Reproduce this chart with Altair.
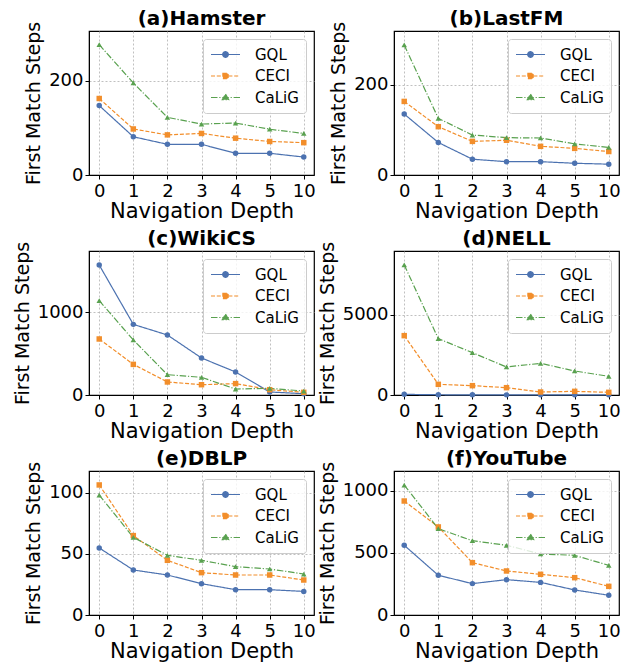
import altair as alt
import pandas as pd

depths = ["0", "1", "2", "3", "4", "5", "10"]
methods = ["GQL", "CECI", "CaLiG"]
colors = ["#4C72B0", "#F28E2B", "#59A14F"]
markers = ["circle", "square", "triangle-up"]

titles = ["(a)Hamster", "(b)LastFM", "(c)WikiCS", "(d)NELL", "(e)DBLP", "(f)YouTube"]

gql = [
    [147, 81, 65, 65, 46, 46, 38],
    [135, 72, 35, 29.5, 29.5, 26, 24],
    [1566, 851, 723, 446, 277, 36, 16],
    [40, 15, 10, 8, 8, 8, 8],
    [54.8, 36.8, 32.7, 25.6, 20.7, 20.7, 19.3],
    [562, 320, 253, 285, 263, 202, 159],
]
ceci = [
    [162, 97.5, 85, 88, 78, 71, 68.5],
    [163, 107, 74.5, 77, 63.5, 59, 52],
    [675, 369, 157, 124, 137, 64, 32],
    [3693, 664, 581, 456, 187, 228, 166],
    [106.3, 64.9, 44.7, 34.6, 32.7, 32.7, 28.6],
    [919, 710, 422, 355, 328, 301, 231],
]
calig = [
    [276, 195, 122, 108, 110, 97, 88],
    [288, 125.5, 88.5, 82.7, 82, 69, 61],
    [1137, 663, 245, 213, 72, 80, 48],
    [8091, 3506, 2635, 1743, 1971, 1494, 1162],
    [98, 63.5, 48.8, 44.7, 39.5, 37.6, 33.5],
    [1048, 696, 599, 562, 492, 481, 400],
]
y_max = [305, 319, 1735, 8960, 117.7, 1161]
y_ticks = [[0, 200], [0, 200], [0, 1000], [0, 5000], [0, 50, 100], [0, 500, 1000]]

FONT = "DejaVu Sans"

# legend symbols: line segment + marker (custom paths, unit = 7.5 px)
LINE = "M-1,0H2.867"
p_circle = LINE + "M1.306,0A0.373,0.373,0,1,1,0.56,0A0.373,0.373,0,1,1,1.306,0Z"
p_square = LINE + "M0.586,-0.347H1.28V0.347H0.586Z"
p_tri = LINE + "M0.933,-0.45L1.36,0.3L0.506,0.3Z"

def sel(a, b, c):
    return ("datum.value === 'GQL' ? %s : (datum.value === 'CECI' ? %s : %s)" % (a, b, c))

legend = alt.Legend(
    title=None,
    orient="top-right",
    offset=8,
    padding=7,
    labelFont=FONT,
    labelFontSize=15,
    labelColor="black",
    labelOffset=28,
    symbolSize=225,
    symbolStrokeWidth=1.2,
    rowPadding=4.5,
    strokeColor="#cccccc",
    fillColor="rgba(255,255,255,0.8)",
    cornerRadius=3,
    symbolOpacity=1,
    symbolType=alt.ExprRef(sel("'%s'" % p_circle, "'%s'" % p_square, "'%s'" % p_tri)),
    symbolFillColor=alt.ExprRef(sel("'%s'" % colors[0], "'%s'" % colors[1], "'%s'" % colors[2])),
    symbolStrokeColor=alt.ExprRef(sel("'%s'" % colors[0], "'%s'" % colors[1], "'%s'" % colors[2])),
    symbolDash=alt.ExprRef(sel("[1,0]", "[4,1.8]", "[6.5,1.8,1.2,1.8]")),
)

def panel(i):
    rows = []
    for m, vals in zip(methods, [gql[i], ceci[i], calig[i]]):
        for k, (d, v) in enumerate(zip(depths, vals)):
            rows.append({"Depth": d, "Steps": v, "Method": m, "idx": k})
    df = pd.DataFrame(rows)
    x = alt.X("Depth:O", sort=depths,
              scale=alt.Scale(type="point", padding=0.3, domain=depths),
              axis=alt.Axis(title="Navigation Depth", labelAngle=0, grid=True))
    y = alt.Y("Steps:Q", scale=alt.Scale(domain=[0, y_max[i]], nice=False, zero=True),
              axis=alt.Axis(title="First Match Steps", values=y_ticks[i], grid=True, format="d"))
    color = alt.Color("Method:N", scale=alt.Scale(domain=methods, range=colors), legend=legend)
    lines = alt.Chart(df).mark_line(strokeWidth=1.2).encode(
        x=x, y=y, color=color,
        strokeDash=alt.StrokeDash("Method:N", scale=alt.Scale(
            domain=methods, range=[[1, 0], [4, 1.8], [6.5, 1.8, 1.2, 1.8]]), legend=None),
        order=alt.Order("idx:Q"),
    )
    layers = [lines]
    for m, mk in zip(methods, markers):
        layers.append(
            alt.Chart(df).transform_filter(alt.datum.Method == m)
            .mark_point(filled=True, opacity=1, size=30, shape=mk)
            .encode(x=x, y=y, color=color)
        )
    return alt.layer(*layers).properties(
        width=225, height=144,
        title=alt.TitleParams(titles[i], font=FONT, fontSize=20, fontWeight="bold",
                              color="black", offset=-8, frame="group"),
    )

chart = alt.concat(*[panel(i) for i in range(6)], columns=2,
                   spacing={"row": 6, "column": 1}).resolve_scale(
    color="independent", strokeDash="independent"
).configure_view(
    stroke="black", strokeWidth=1.2
).configure_axis(
    labelFont=FONT, titleFont=FONT, labelFontSize=18, titleFontSize=20,
    labelColor="black", titleColor="black", titleFontWeight="normal",
    domainColor="black", tickColor="black", tickSize=4, labelPadding=2,
    gridColor="#b0b0b0", gridDash=[2, 2], gridWidth=0.8,
).configure_axisX(titlePadding=0, labelPadding=3, titleFontSize=21
).configure_axisY(titlePadding=5, titleFontSize=19
).properties(padding={"left": 4, "top": 0, "right": 0, "bottom": 0})

chart.save("out.html", embed_options={"renderer": "svg", "actions": False})
